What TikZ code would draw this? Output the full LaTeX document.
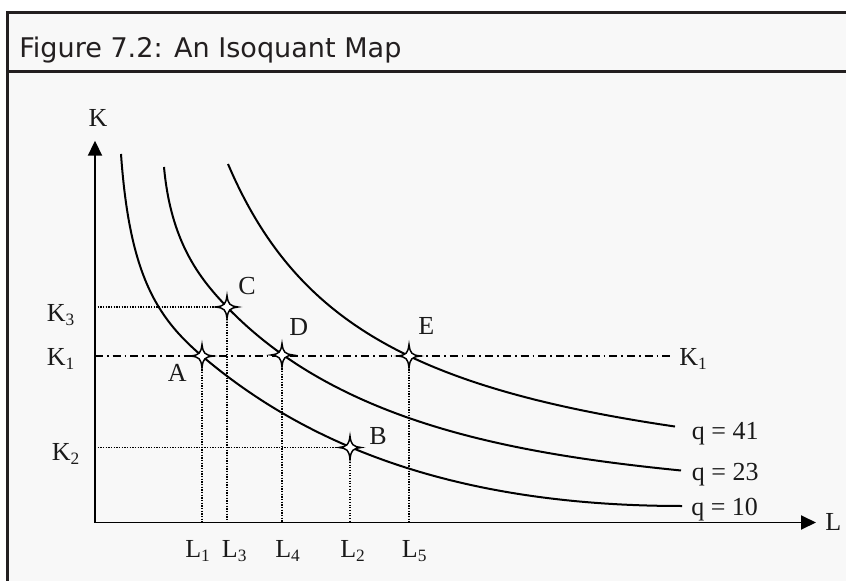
\documentclass[tikz,border=0pt]{standalone}
\usepackage{fontspec}
\setmainfont{Liberation Serif}
\newfontfamily\titlefont{DejaVu Sans}
\usetikzlibrary{arrows.meta}
\definecolor{bg}{HTML}{F8F8F8}
\definecolor{frm}{HTML}{231F20}
\definecolor{ink}{HTML}{1A1A1A}
\newcommand\lsub[1]{\raisebox{-3pt}{\fontsize{13pt}{14pt}\selectfont #1}}
\tikzset{
  lbl/.style={anchor=base west, inner sep=0pt, text=ink, font=\fontsize{19.5pt}{22pt}\selectfont},
  axisline/.style={line width=1.4pt, black, -{Triangle[length=11.25pt,width=10.5pt]}},
  isoq/.style={line width=1.5pt, black, line cap=butt},
  guide/.style={line width=0.9pt, black, dash pattern=on 0.9pt off 1.1pt},
  dashdot/.style={line width=1.1pt, black, dash pattern=on 6pt off 3pt on 1.3pt off 3pt},
  star4/.pic={\filldraw[fill=white, draw=black, line width=1.1pt]
     (0,-11.5) .. controls (1.3,-2.5) and (2.5,-1.3) .. (11,0)
     .. controls (2.5,1.3) and (1.3,2.5) .. (0,11.5)
     .. controls (-1.3,2.5) and (-2.5,1.3) .. (-11,0)
     .. controls (-2.5,-1.3) and (-1.3,-2.5) .. cycle;}
}
\begin{document}
\begin{tikzpicture}[x=0.75pt,y=-0.75pt]
\useasboundingbox (0,0) rectangle (846,581);
\fill[white] (0,0) rectangle (846,581);
\fill[bg] (7.3,12.5) rectangle (846,581);
\draw[frm, line width=2.25pt] (7.3,581) -- (7.3,12.5) -- (846,12.5);
\draw[frm, line width=2pt] (7.3,71.3) -- (846,71.3);
\node[anchor=base west, inner sep=0pt, text=frm, font=\titlefont\fontsize{20.3pt}{24pt}\selectfont] (title) at (19,57.5) {Figure 7.2: An Isoquant Map};

% coordinates
\coordinate (O) at (95,522.5);
\coordinate (Ytop) at (95,140.7);
\coordinate (Xend) at (816,522.5);
\coordinate (A) at (202,356);
\coordinate (B) at (350,447.5);
\coordinate (C) at (227,307);
\coordinate (D) at (282,355);
\coordinate (E) at (409,356);
\coordinate (K1end) at (672,356);
\coordinate (S10) at (121,154);
\coordinate (T10) at (682,506);
\coordinate (S23) at (164,167);
\coordinate (T23) at (681,470.5);

% guides
\draw[guide] (O |- C) -- (C) -- (C |- O);
\draw[guide] (O |- B) -- (B) -- (B |- O);
\draw[guide] (A) -- (A |- O);
\draw[guide] (D) -- (D |- O);
\draw[guide] (E) -- (E |- O);
\draw[dashdot] (O |- A) -- (K1end);

% isoquants
\draw[isoq] (S10) .. controls (129.4,274) and (156.3,317.1) .. (A)
   .. controls (304.9,443.5) and (452,506) .. (T10);
\draw[isoq] (S23) .. controls (170.75,241.7) and (199.3,278.2) .. (C)
   .. controls (337.9,422.4) and (512,453.6) .. (T23);
\draw[isoq] plot[domain=228:675, samples=120, smooth] (\x,{514-521.32/((\x-79.05)/100)});

% axes
\draw[axisline] (O) -- (Ytop);
\draw[axisline] (O) -- (Xend);

% markers
\pic at (A) {star4};
\pic at (B) {star4};
\pic at (C) {star4};
\pic at (D) {star4};
\pic at (E) {star4};

% labels
\node[lbl] (lK) at (88.3,126.7) {K};
\node[lbl] (lL) at (825,530) {L};
\node[lbl] (lK3) at (46.7,321.7) {K\lsub{3}};
\node[lbl] (lK1) at (46.7,365) {K\lsub{1}};
\node[lbl] (lK2) at (51.7,460) {K\lsub{2}};
\node[lbl] (lK1r) at (679,365) {K\lsub{1}};
\node[lbl] (lA) at (167.7,381.7) {A};
\node[lbl] (lB) at (369,444) {B};
\node[lbl] (lC) at (238,294) {C};
\node[lbl] (lD) at (289,335) {D};
\node[lbl] (lE) at (418,334) {E};
\node[lbl] (lL1) at (185,557.7) {L\lsub{1}};
\node[lbl] (lL3) at (221.7,557.7) {L\lsub{3}};
\node[lbl] (lL4) at (275,557.7) {L\lsub{4}};
\node[lbl] (lL2) at (340,557.7) {L\lsub{2}};
\node[lbl] (lL5) at (401.7,557.7) {L\lsub{5}};
\node[lbl] (q41) at (691.7,439.3) {q = 41};
\node[lbl] (q23) at (691.7,480) {q = 23};
\node[lbl] (q10) at (691,515) {q = 10};
\end{tikzpicture}
\end{document}
